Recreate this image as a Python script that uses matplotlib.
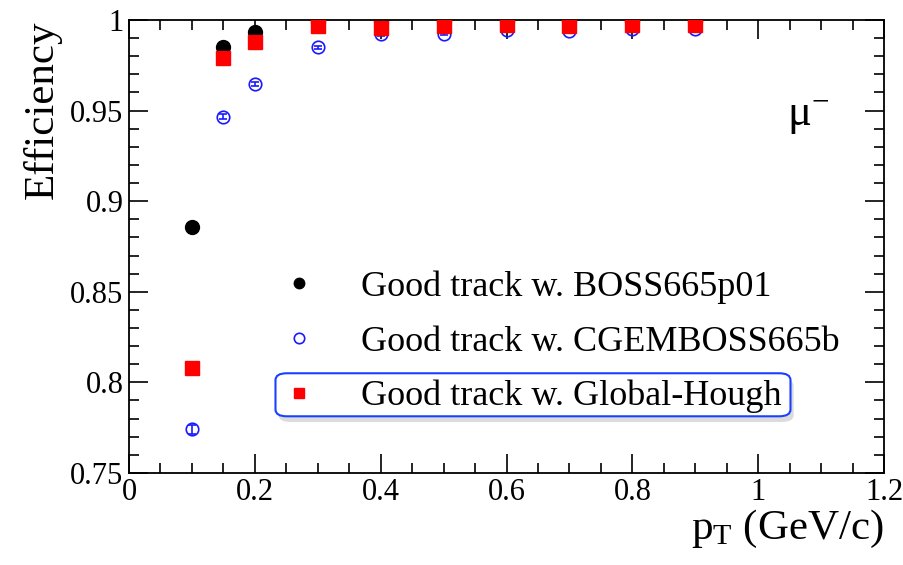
import matplotlib
matplotlib.use("Agg")
import matplotlib.pyplot as plt
from matplotlib.lines import Line2D
from matplotlib.patches import FancyBboxPatch, Shadow
from matplotlib.ticker import MultipleLocator, FuncFormatter

plt.rcParams["font.family"] = ["Liberation Serif", "DejaVu Serif"]
plt.rcParams["mathtext.fontset"] = "custom"
plt.rcParams["mathtext.rm"] = "Liberation Serif"
plt.rcParams["mathtext.it"] = "Liberation Serif:italic"

# pT bins (GeV/c)
pt = [0.1, 0.15, 0.2, 0.3, 0.4, 0.5, 0.6, 0.7, 0.8, 0.9]

# efficiencies for the three tracking setups
eff_boss = [0.886, 0.9853, 0.9934, 0.9990, 0.9993, 0.9993, 0.9994, 0.9993, 0.9993, 0.9994]
err_boss = [0.0020, 0.0010, 0.0008, 0.0004, 0.0003, 0.0003, 0.0003, 0.0003, 0.0003, 0.0003]

eff_cgem = [0.7740, 0.9466, 0.9648, 0.9849, 0.9921, 0.9922, 0.9945, 0.9937, 0.9950, 0.9952]
err_cgem = [0.0025, 0.0015, 0.0012, 0.0009, 0.0007, 0.0007, 0.0006, 0.0006, 0.0006, 0.0006]

eff_hough = [0.8081, 0.9788, 0.9880, 0.9967, 0.9956, 0.9968, 0.9970, 0.9968, 0.9972, 0.9970]
err_hough = [0.0020, 0.0011, 0.0010, 0.0006, 0.0005, 0.0005, 0.0005, 0.0005, 0.0005, 0.0005]

labels = ["Good track w. BOSS665p01",
          "Good track w. CGEMBOSS665b",
          "Good track w. Global-Hough"]

BLUE = "#1a1aff"
RED = "#ff0000"

fig = plt.figure(figsize=(9.04, 5.65), dpi=100)
ax = fig.add_axes([0.1427, 0.163, 0.8353, 0.8016])

ax.errorbar(pt, eff_boss, yerr=err_boss, fmt="o", color="black",
            ms=10, elinewidth=1.2, capsize=3, zorder=3)
ax.errorbar(pt, eff_cgem, yerr=err_cgem, fmt="o", color=BLUE,
            mfc="none", mec=BLUE, mew=1.2, ms=9, elinewidth=1.2,
            capsize=3, zorder=4)
ax.errorbar(pt, eff_hough, yerr=err_hough, fmt="s", color=RED,
            ms=9.5, elinewidth=1.2, capsize=3, zorder=5)

ax.set_xlim(0, 1.2)
ax.set_ylim(0.75, 1.0)

ax.xaxis.set_major_locator(MultipleLocator(0.2))
ax.xaxis.set_minor_locator(MultipleLocator(0.05))
ax.yaxis.set_major_locator(MultipleLocator(0.05))
ax.yaxis.set_minor_locator(MultipleLocator(0.01))
ax.xaxis.set_major_formatter(FuncFormatter(lambda v, p: f"{v:g}"))
ax.yaxis.set_major_formatter(FuncFormatter(lambda v, p: f"{v:g}"))

ax.tick_params(which="both", direction="in", top=True, right=True,
               labelsize=22, width=1.2, pad=4)
ax.tick_params(which="major", length=14)
ax.tick_params(which="minor", length=7)
for s in ax.spines.values():
    s.set_linewidth(1.3)

ax.set_ylabel("Efficiency", fontsize=31, loc="top", labelpad=6)
ax.set_xlabel(r"p$_{\mathrm{T}}$ (GeV/c)", fontsize=31, loc="right", labelpad=0)

ax.text(0.872, 0.785, "μ$^{-}$", transform=ax.transAxes, fontsize=32,
        ha="left", va="center")

# legend: markers only, no frame
handles = [
    Line2D([], [], ls="none", marker="o", color="black", ms=7.5),
    Line2D([], [], ls="none", marker="o", mfc="none", mec=BLUE, mew=1.2, ms=7.5),
    Line2D([], [], ls="none", marker="s", color=RED, ms=7.5),
]
leg = ax.legend(handles=handles, labels=labels, loc="upper left",
                bbox_to_anchor=(0.195, 0.447), frameon=False, fontsize=26,
                handlelength=1.28, handletextpad=1.08, labelspacing=0.59,
                borderpad=0, borderaxespad=0)
leg.set_zorder(8)

# rounded box with drop shadow around the Global-Hough entry
box = FancyBboxPatch((0.194, 0.125), 0.682, 0.095,
                     boxstyle="round,pad=0,rounding_size=0.015",
                     transform=ax.transAxes, fc="white", ec="#1a40ff",
                     lw=1.5, zorder=6)
shadow = Shadow(box, 0.003, -0.009, alpha=0.35)
shadow.set_facecolor("#999999")
shadow.set_edgecolor("none")
shadow.set_zorder(5.5)
ax.add_patch(shadow)
ax.add_patch(box)

fig.savefig("out.png", dpi=100)
